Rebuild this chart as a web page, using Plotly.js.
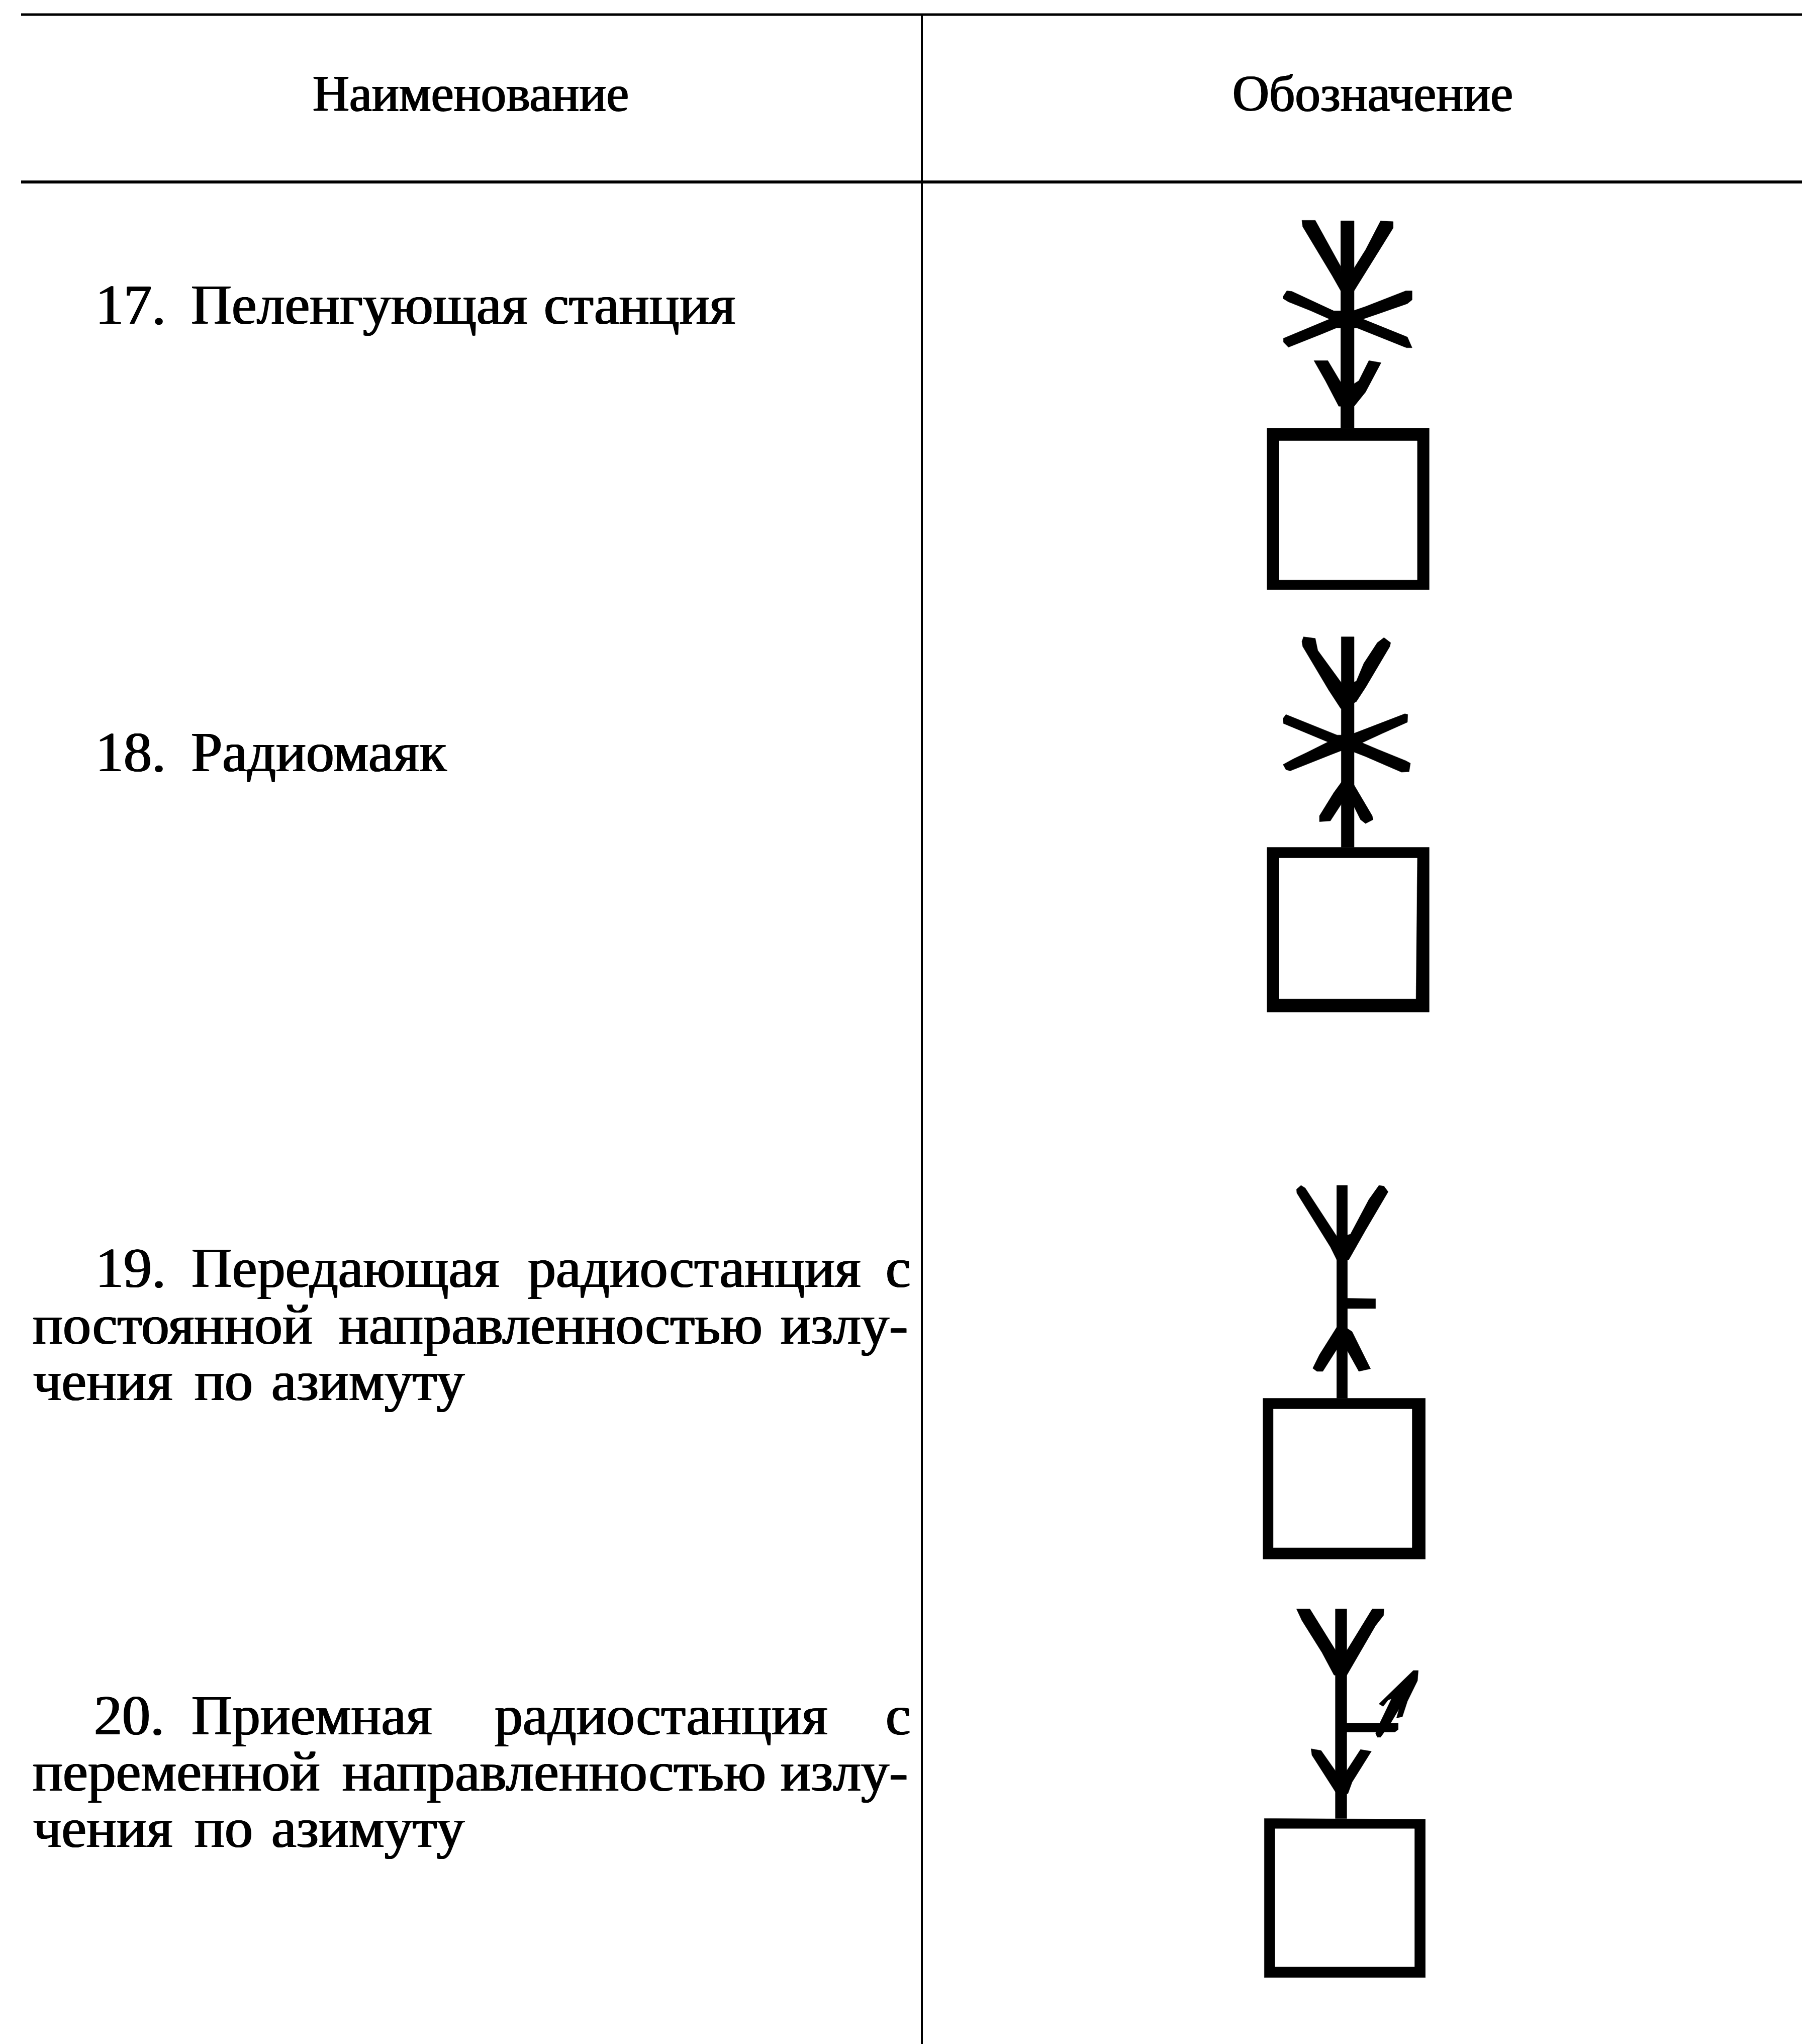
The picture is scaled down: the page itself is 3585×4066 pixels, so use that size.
<!DOCTYPE html>
<html><head><meta charset="utf-8">
<script src="https://cdn.plot.ly/plotly-3.0.1.min.js"></script>
<style>html,body{margin:0;padding:0;background:#fff}</style></head>
<body><div id="chart" style="width:3585px;height:4066px"></div>
<script>
// Table rules, in page units [x0,y0,x1,y1,thickness]
const rules = [[42,29,3585,29,5],[42,362,3585,362,6],[1834,29,1834,4066,4]];

// Header labels
const headerWords = ["Наименование","Обозначение"];
const headerX = [622,2452];
const headerBase = [221,221];

// Body words
const bodyWords = ["17.","Пеленгующая","станция","18.","Радиомаяк",
 "19.","Передающая","радиостанция","с","постоянной","направленностью","излу-","чения","по","азимуту",
 "20.","Приемная","радиостанция","с","переменной","направленностью","излу-","чения","по","азимуту"];
const bodyX = [190,380,1082,190,380,
 190,381,1050,1762,65,674,1553,66,387,540,
 187,381,984,1762,65,681,1553,66,387,540];
const bodyBase = [645,645,645,1535,1535,
 2561,2561,2561,2561,2674,2674,2674,2786,2786,2786,
 3451,3451,3451,3451,3563,3563,3563,3675,3675,3675];

// Symbols: outlines as measured on the crops ([x,y] pairs)
const sym17Origin=[2450,400], sym18Origin=[2450,1230], sym19Origin=[2450,2330], sym20Origin=[2450,3170];
const sym17Black=[
 [[212,885],[1180,885],[1180,1515],[212,1515]],
 [[652,77],[732,77],[732,885],[652,885]],
 [[420,75],[500,75],[652,255],[660,350],[652,350],[600,290],[425,100]],
 [[725,268],[800,190],[890,77],[965,80],[965,105],[790,290],[732,350],[725,350]],
 [[308,372],[330,350],[360,352],[470,385],[610,428],[660,428],[660,495],[625,495],[540,518],[340,570],[310,550],[310,535],[430,502],[585,460],[470,427],[340,393],[308,380]],
 [[725,428],[800,411],[1040,350],[1078,350],[1078,385],[1050,400],[870,441],[785,460],[830,472],[1050,530],[1078,572],[1045,572],[930,542],[820,513],[750,495],[725,495]],
 [[492,622],[575,622],[660,715],[660,800],[640,800],[560,700]],
 [[725,715],[760,700],[820,622],[893,630],[800,745],[732,800],[725,800]]
];
const sym17White=[[285,935],[1108,935],[1108,1477],[285,1477]];
const sym18Black=[
 [[212,893],[1180,893],[1180,1535],[212,1535]],
 [[655,72],[732,72],[732,893],[655,893]],
 [[420,90],[430,72],[500,78],[515,125],[660,255],[660,352],[652,352],[580,280],[425,110]],
 [[725,250],[745,245],[790,175],[870,95],[910,75],[950,95],[945,110],[800,270],[745,325],[725,332]],
 [[308,390],[325,375],[440,405],[490,418],[630,455],[660,455],[660,515],[600,530],[500,556],[400,582],[350,595],[325,590],[308,570],[370,548],[450,523],[575,482],[490,459],[380,429],[310,410]],
 [[725,450],[745,445],[830,424],[890,408],[1035,372],[1052,375],[1050,405],[900,449],[780,485],[870,510],[1040,555],[1068,565],[1060,598],[1015,600],[890,565],[800,539],[725,520]],
 [[660,635],[660,720],[590,790],[525,793],[525,770],[610,680]],
 [[725,645],[732,650],[840,770],[845,785],[800,800],[770,785],[732,735],[725,735]]
];
const sym18White=[[285,935],[1108,935],[1100,1483],[285,1483]];
const sym19Black=[
 [[188,885],[1157,885],[1157,1512],[188,1512]],
 [[628,55],[692,55],[692,885],[628,885]],
 [[388,70],[415,55],[440,65],[635,260],[635,345],[628,345],[590,295],[390,85]],
 [[685,250],[710,245],[820,110],[880,55],[910,58],[935,80],[800,230],[700,345],[685,345]],
 [[685,495],[860,497],[860,535],[685,535]],
 [[635,608],[635,695],[628,695],[545,780],[510,780],[485,768],[525,715],[628,608]],
 [[685,610],[720,625],[830,770],[760,780],[692,700],[685,700]]
];
const sym19White=[[250,927],[1077,927],[1077,1467],[250,1467]];
const sym20Black=[
 [[196,877],[1157,880],[1157,1497],[196,1497]],
 [[620,60],[688,60],[688,877],[620,877]],
 [[388,60],[468,60],[625,225],[625,318],[612,318],[540,230],[420,105]],
 [[680,225],[685,225],[840,60],[910,60],[908,85],[860,125],[685,322],[680,322]],
 [[680,505],[995,505],[995,530],[975,540],[680,540]],
 [[475,605],[535,612],[630,700],[630,775],[622,775],[480,630]],
 [[680,700],[688,690],[770,608],[835,615],[720,735],[695,780],[680,780]],
 [[1115,300],[1085,300],[880,430],[905,440],[935,415],[955,410],[885,505],[860,545],[870,560],[890,560],[950,505],[1000,450],[985,485],[1020,480],[1050,420],[1110,340]]
];
const sym20White=[[260,917],[1092,917],[1092,1455],[260,1455]];

const CROP_SX=3, CROP_SY=1.96;
function polyTrace(origin,p,color){
  const xs=p.map(q=>origin[0]+q[0]/CROP_SX), ys=p.map(q=>origin[1]+q[1]/CROP_SY);
  xs.push(xs[0]); ys.push(ys[0]);
  return {type:'scatter',mode:'lines',x:xs,y:ys,fill:'toself',fillcolor:color,
    line:{width:0.5,color:color},hoverinfo:'skip',showlegend:false};
}

const FONT='"Liberation Serif","Times New Roman",serif';
const BODY_SIZE=112, HEAD_SIZE=101, BASE_SHIFT=0.26;
const HEAVY='1.2px 0 0 #000, -1.2px 0 0 #000, 0 0.6px 0 #000';
function words(t,x,b,size){return {type:'scatter',mode:'text',text:t,x:x,y:b.map(v=>v-size*BASE_SHIFT),
  textposition:'middle right',textfont:{family:FONT,size:size,color:'#000',shadow:HEAVY},hoverinfo:'skip',showlegend:false};}

const traces=[];
rules.forEach(r=>traces.push({type:'scatter',mode:'lines',x:[r[0],r[2]],y:[r[1],r[3]],
  line:{color:'#000',width:r[4]},hoverinfo:'skip',showlegend:false}));
[[sym17Origin,sym17Black,sym17White],[sym18Origin,sym18Black,sym18White],
 [sym19Origin,sym19Black,sym19White],[sym20Origin,sym20Black,sym20White]].forEach(s=>{
  s[1].forEach(p=>traces.push(polyTrace(s[0],p,'#000')));
  traces.push(polyTrace(s[0],s[2],'#fff'));
});
traces.push(words(headerWords,headerX,headerBase,HEAD_SIZE));
traces.push(words(bodyWords,bodyX,bodyBase,BODY_SIZE));

Plotly.newPlot('chart',traces,{
  width:3585,height:4066,margin:{l:0,r:0,t:0,b:0,pad:0},
  paper_bgcolor:'#fff',plot_bgcolor:'#fff',showlegend:false,
  xaxis:{range:[0,3585],visible:false,fixedrange:true},
  yaxis:{range:[4066,0],visible:false,fixedrange:true}
},{displayModeBar:false,staticPlot:true});
</script></body></html>
